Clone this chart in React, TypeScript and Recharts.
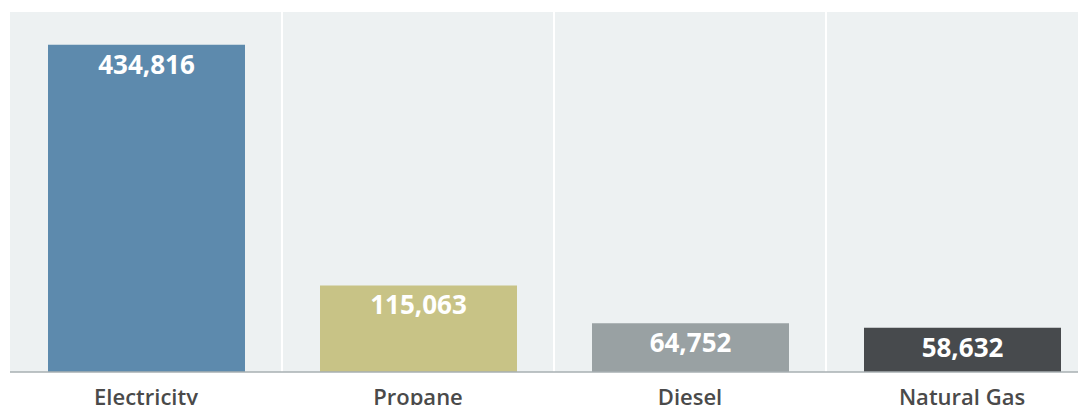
import React from 'react';
import { BarChart, Bar, XAxis, YAxis, CartesianGrid, Cell, LabelList } from 'recharts';

const fuels = ['Electricity', 'Propane', 'Diesel', 'Natural Gas'];
const amounts = [434816, 115063, 64752, 58632];
const fuelColors = ['#5d8aad', '#c8c386', '#99a1a3', '#474a4d'];

const data = fuels.map((name, i) => ({ name, value: amounts[i] }));

// value printed in white just below the top of each bar
function TopLabel(props: any) {
  const { x, y, width, value } = props;
  return (
    <text
      x={x + width / 2}
      y={y + 19}
      textAnchor="middle"
      dominantBaseline="central"
      fill="#ffffff"
      fontSize={26}
      fontWeight={700}
      fontFamily="'Open Sans', sans-serif"
    >
      {Number(value).toLocaleString('en-US')}
    </text>
  );
}

export default function App() {
  return (
    <div style={{ width: 1078, height: 397, overflow: 'hidden' }}>
      <BarChart
        width={1090}
        height={410}
        data={data}
        margin={{ top: 4, right: 0, bottom: 6, left: 2 }}
      >
        <CartesianGrid
          fill="#edf1f2"
          horizontal={false}
          stroke="#ffffff"
          strokeWidth={2}
          verticalCoordinatesGenerator={({ offset }: any) =>
            [1, 2, 3].map((i) => offset.left + (i * offset.width) / fuels.length)
          }
        />
        <XAxis
          dataKey="name"
          height={40}
          axisLine={{ stroke: '#a7afb2', strokeWidth: 1.5 }}
          tickLine={false}
          tickMargin={11}
          tick={{ fill: '#4a4a4a', fontSize: 22, fontWeight: 600, fontFamily: "'Open Sans', sans-serif" }}
        />
        <YAxis hide domain={[0, (max: number) => max * 1.1]} />
        <Bar dataKey="value" barSize={197} isAnimationActive={false}>
          {data.map((d, i) => (
            <Cell key={d.name} fill={fuelColors[i]} />
          ))}
          <LabelList dataKey="value" content={<TopLabel />} />
        </Bar>
      </BarChart>
    </div>
  );
}
